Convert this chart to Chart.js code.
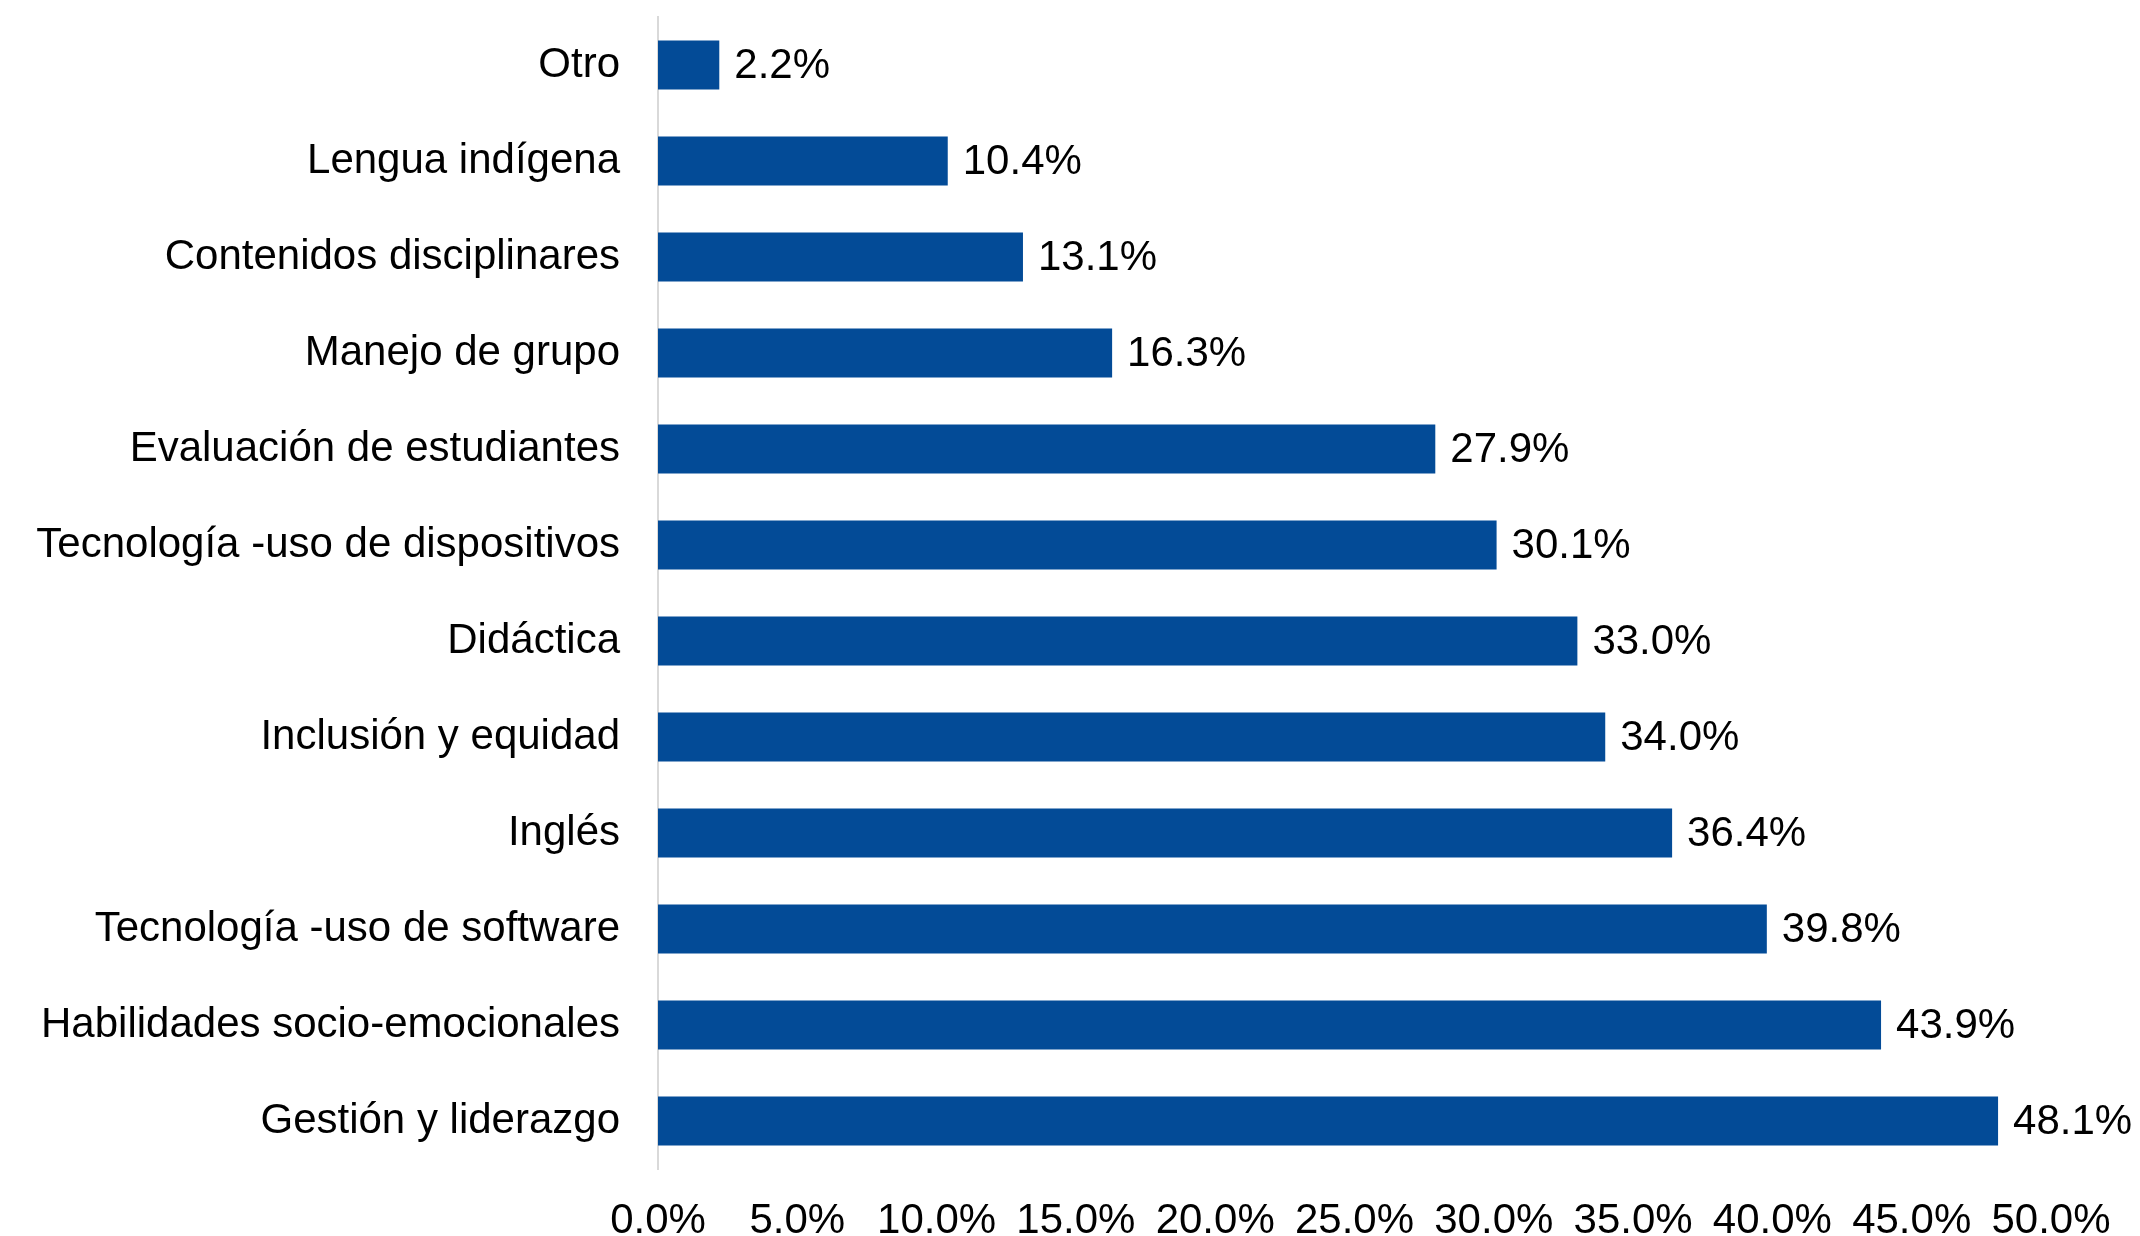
<!DOCTYPE html>
<html>
<head>
<meta charset="utf-8">
<script src="https://cdn.jsdelivr.net/npm/chart.js@4/dist/chart.umd.min.js"></script>
<style>
  html, body { margin: 0; padding: 0; background: #fff; }
  #wrap { width: 2140px; height: 1236px; }
</style>
</head>
<body>
<div id="wrap"><canvas id="chart"></canvas></div>
<script>
const categories = [
  'Otro',
  'Lengua indígena',
  'Contenidos disciplinares',
  'Manejo de grupo',
  'Evaluación de estudiantes',
  'Tecnología -uso de dispositivos',
  'Didáctica',
  'Inclusión y equidad',
  'Inglés',
  'Tecnología -uso de software',
  'Habilidades socio-emocionales',
  'Gestión y liderazgo',
];
const values = [2.2, 10.4, 13.1, 16.3, 27.9, 30.1, 33.0, 34.0, 36.4, 39.8, 43.9, 48.1];
const xTicks = [0, 5, 10, 15, 20, 25, 30, 35, 40, 45, 50];

const FONT = 'Liberation Sans, Arial, sans-serif';
const FONT_SIZE = 42;
const BAR_COLOR = '#034B97';

const valueLabels = {
  id: 'valueLabels',
  afterDatasetsDraw(chart) {
    const ctx = chart.ctx;
    const meta = chart.getDatasetMeta(0);
    ctx.save();
    ctx.font = `${FONT_SIZE}px ${FONT}`;
    ctx.fillStyle = '#000';
    ctx.textAlign = 'left';
    ctx.textBaseline = 'middle';
    meta.data.forEach((bar, i) => {
      ctx.fillText(values[i].toFixed(1) + '%', bar.x + 15, bar.y + 1);
    });
    ctx.restore();
  },
};

new Chart(document.getElementById('chart'), {
  type: 'bar',
  data: {
    labels: categories,
    datasets: [{
      data: values,
      backgroundColor: BAR_COLOR,
      borderWidth: 0,
      categoryPercentage: 1,
      barPercentage: 0.51,
    }],
  },
  options: {
    indexAxis: 'y',
    responsive: true,
    maintainAspectRatio: false,
    animation: false,
    layout: { padding: { top: 17, right: 89, left: 0, bottom: 0 } },
    plugins: {
      legend: { display: false },
      tooltip: { enabled: false },
    },
    scales: {
      x: {
        min: 0,
        max: 50,
        afterBuildTicks: scale => { scale.ticks = xTicks.map(v => ({ value: v })); },
        afterFit: scale => { scale.height = 67; },
        grid: { display: false },
        border: { display: false },
        ticks: {
          color: '#000',
          padding: 19,
          maxRotation: 0,
          autoSkip: false,
          font: { family: FONT, size: FONT_SIZE },
          callback: v => Number(v).toFixed(1) + '%',
        },
      },
      y: {
        afterFit: scale => {
          scale.width = 658;
          scale.paddingTop = 0;
          scale.paddingBottom = 0;
        },
        grid: { display: false },
        border: { display: true, color: '#d9d9d9', width: 2 },
        ticks: {
          color: '#000',
          padding: 30,
          autoSkip: false,
          font: { family: FONT, size: FONT_SIZE },
        },
      },
    },
  },
  plugins: [valueLabels],
});
</script>
</body>
</html>
